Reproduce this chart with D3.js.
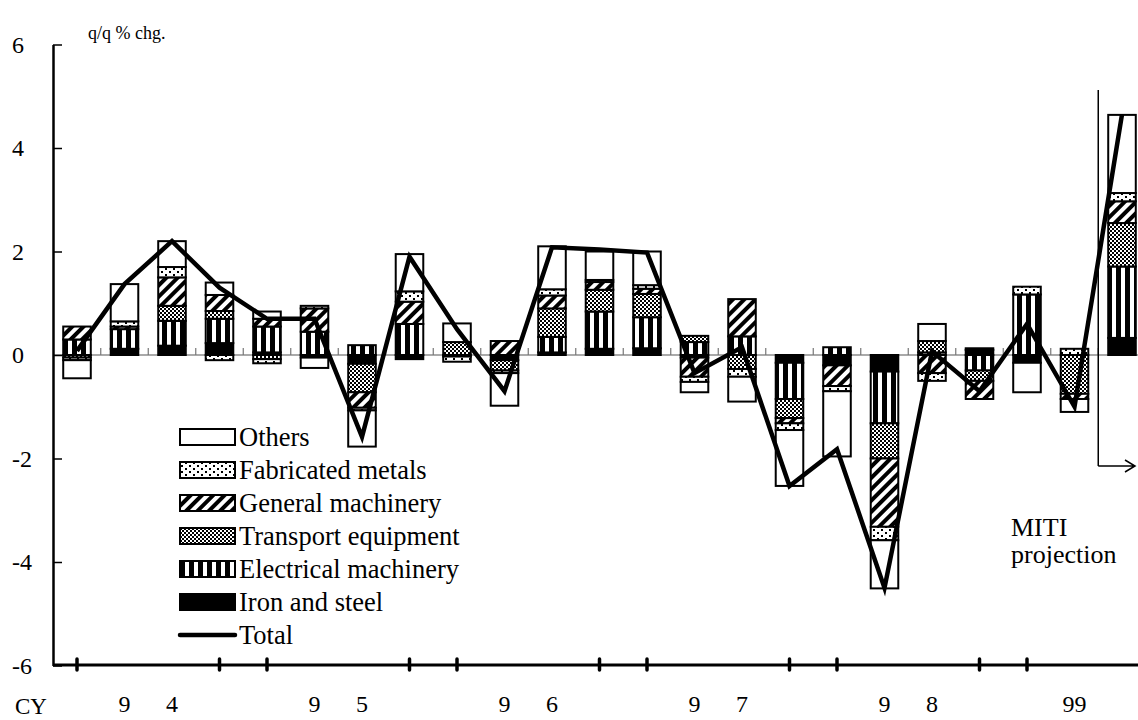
<!DOCTYPE html>
<html><head><meta charset="utf-8">
<script src="https://cdn.jsdelivr.net/npm/d3@7"></script>
<style>
body{margin:0;background:#fff;}
svg{display:block;}
svg text{font-family:"Liberation Serif","Times New Roman",serif !important;fill:#000;}
</style></head>
<body><svg id="c" width="1138" height="720"></svg>
<script>
// ---- data ----
const categories = ["94Q1","94Q2","94Q3","94Q4","95Q1","95Q2","95Q3","95Q4","96Q1","96Q2","96Q3","96Q4","97Q1","97Q2","97Q3","97Q4","98Q1","98Q2","98Q3","98Q4","99Q1","99Q2","99Q3"];
const xLabels = ["","9","4","","","9","5","","","9","6","","","9","7","","","9","8","","","99",""];
const yearEdgeTicks = ["94Q1","94Q4","95Q1","95Q4","96Q1","96Q4","97Q1","97Q4","98Q1","98Q4","99Q1"];
const yTicks = [-6,-4,-2,0,2,4,6];
const seriesNames = ["Iron and steel","Electrical machinery","Transport equipment","General machinery","Fabricated metals","Others"];
const ironSteel   = [0,0.12,0.18,0.23,0.05,-0.05,-0.17,-0.08,-0.03,-0.1,0.05,0.12,0.13,-0.05,0,-0.15,-0.2,-0.32,0,0.1,-0.15,0,0.33];
const electrical  = [0.3,0.38,0.48,0.47,0.5,0.45,0.19,0.6,0,0,0.3,0.72,0.6,0.25,0.36,-0.7,0.15,-1.0,0.05,-0.3,1.17,0,1.38];
const transport   = [-0.05,0,0.29,0.15,-0.08,0,-0.55,0,0.25,-0.2,0.55,0.42,0.45,0.12,-0.27,-0.37,0,-0.68,0.22,-0.2,0,-0.75,0.84];
const generalMach = [0.25,0.05,0.55,0.31,0.15,0.45,-0.3,0.43,0,0.27,0.25,0.15,0.1,-0.37,0.72,-0.1,-0.4,-1.32,-0.35,-0.35,0,-0.1,0.42];
const fabricated  = [-0.05,0.1,0.2,-0.1,-0.08,0.05,-0.05,0.2,-0.1,-0.05,0.12,0.04,0.07,-0.1,-0.15,-0.13,-0.1,-0.26,-0.15,0.03,0.15,0.12,0.16];
const others      = [-0.35,0.72,0.5,0.24,0.14,-0.2,-0.7,0.72,0.36,-0.63,0.83,0.55,0.65,-0.2,-0.48,-1.08,-1.26,-0.93,0.33,0,-0.57,-0.25,1.51];
const total       = [0.08,1.37,2.2,1.3,0.7,0.7,-1.58,1.9,0.5,-0.7,2.08,2.04,1.98,-0.35,0.15,-2.53,-1.82,-4.5,0.07,-0.7,0.6,-1.0,4.65];
const legendOrder = ["Others","Fabricated metals","General machinery","Transport equipment","Electrical machinery","Iron and steel","Total"];

// ---- build ----
const svg = d3.select("#c");
const defs = svg.append("defs");
const pElec = defs.append("pattern").attr("id","p-elec").attr("patternUnits","userSpaceOnUse").attr("width",9).attr("height",9);
pElec.append("rect").attr("width",9).attr("height",9).attr("fill","#fff");
pElec.append("rect").attr("width",5).attr("height",9).attr("fill","#000");
const pTr = defs.append("pattern").attr("id","p-tr").attr("patternUnits","userSpaceOnUse").attr("width",4).attr("height",4);
pTr.append("rect").attr("width",4).attr("height",4).attr("fill","#fff");
pTr.append("rect").attr("width",2).attr("height",2).attr("fill","#000");
pTr.append("rect").attr("x",2).attr("y",2).attr("width",2).attr("height",2).attr("fill","#000");
const pGen = defs.append("pattern").attr("id","p-gen").attr("patternUnits","userSpaceOnUse").attr("width",8).attr("height",8).attr("patternTransform","rotate(45)");
pGen.append("rect").attr("width",8).attr("height",8).attr("fill","#fff");
pGen.append("rect").attr("width",4).attr("height",8).attr("fill","#000");
const pFab = defs.append("pattern").attr("id","p-fab").attr("patternUnits","userSpaceOnUse").attr("width",8).attr("height",6);
pFab.append("rect").attr("width",8).attr("height",6).attr("fill","#fff");
pFab.append("rect").attr("x",1).attr("y",1).attr("width",2).attr("height",2).attr("fill","#000");
pFab.append("rect").attr("x",5).attr("y",4).attr("width",2).attr("height",2).attr("fill","#000");

const fills = {
  "Iron and steel":"#000",
  "Electrical machinery":"url(#p-elec)",
  "Transport equipment":"url(#p-tr)",
  "General machinery":"url(#p-gen)",
  "Fabricated metals":"url(#p-fab)",
  "Others":"#fff"
};

const x = d3.scaleBand().domain(categories).range([53.25,1145.75]).paddingInner(0.42).paddingOuter(0.21);
const step = x.step();
const y = d3.scaleLinear().domain([-6,6]).range([665.5,44.5]);

const rows = categories.map((c,i)=>({cat:c,
  "Iron and steel":ironSteel[i],"Electrical machinery":electrical[i],"Transport equipment":transport[i],
  "General machinery":generalMach[i],"Fabricated metals":fabricated[i],"Others":others[i]}));
const stack = d3.stack().keys(seriesNames).offset(d3.stackOffsetDiverging);
const layers = stack(rows);

// zero line with category ticks
svg.append("line").attr("x1",53).attr("x2",1138).attr("y1",y(0)).attr("y2",y(0)).attr("stroke","#555").attr("stroke-width",1.2);
svg.append("g").selectAll("line").data(categories.slice(1)).join("line")
  .attr("x1",d=>x(d)-step*0.21).attr("x2",d=>x(d)-step*0.21)
  .attr("y1",y(0)).attr("y2",y(0)-7).attr("stroke","#777").attr("stroke-width",1.2);

// bars
const gBars = svg.append("g");
layers.forEach(layer=>{
  gBars.append("g").selectAll("rect").data(layer.filter(d=>Math.abs(d[1]-d[0])>1e-9)).join("rect")
    .attr("x",d=>x(d.data.cat)).attr("width",x.bandwidth())
    .attr("y",d=>y(Math.max(d[0],d[1]))).attr("height",d=>Math.abs(y(d[0])-y(d[1])))
    .attr("fill",fills[layer.key]).attr("stroke","#000").attr("stroke-width",2);
});

// total line
const line = d3.line().x((d,i)=>x(categories[i])+x.bandwidth()/2).y(d=>y(d));
svg.append("path").datum(total).attr("d",line).attr("fill","none").attr("stroke","#000").attr("stroke-width",4.5).attr("stroke-linejoin","miter");

// y axis
const yAxis = d3.axisLeft(y).tickValues(yTicks).tickSizeInner(-9).tickSizeOuter(0).tickFormat(d=>String(d));
const gy = svg.append("g").attr("transform","translate(53,0)").call(yAxis);
gy.select(".domain").attr("stroke-width",2.5);
gy.selectAll(".tick line").attr("stroke-width",1.5);
gy.selectAll(".tick text").attr("x",-41).attr("text-anchor","start").attr("font-size",24);

// bottom axis with year-edge ticks
const xAxis = d3.axisBottom(x).tickValues(yearEdgeTicks).tickSize(0).tickFormat("");
const gx = svg.append("g").attr("transform","translate(0,665)").call(xAxis);
gx.select(".domain").attr("d","M53,0H1138").attr("stroke-width",3);
gx.selectAll(".tick").append("line").attr("y1",-6).attr("y2",5).attr("stroke","#000").attr("stroke-width",3.5).attr("stroke-linecap","round");

// year labels
const xLab = d3.axisBottom(x).tickSize(0).tickFormat(d=>xLabels[categories.indexOf(d)]);
const gl = svg.append("g").attr("transform","translate(0,697)").call(xLab);
gl.select(".domain").remove();
gl.selectAll("text").attr("font-size",24).attr("dy","0.5em");

svg.append("text").attr("x",15).attr("y",714).attr("font-size",23).text("CY");
svg.append("text").attr("x",88).attr("y",39).attr("font-size",18).text("q/q % chg.");

// MITI projection
const xm = x("99Q2")+x.bandwidth()+(step-x.bandwidth())/2;
svg.append("line").attr("x1",xm).attr("x2",xm).attr("y1",90).attr("y2",466).attr("stroke","#000").attr("stroke-width",1.5);
svg.append("path").attr("d",`M${xm},466H1135M1125,460L1135,466L1125,472`).attr("fill","none").attr("stroke","#000").attr("stroke-width",1.5);
svg.append("text").attr("x",1011).attr("y",536).attr("font-size",26).text("MITI");
svg.append("text").attr("x",1011).attr("y",563).attr("font-size",26).text("projection");

// legend
const lg = svg.append("g").attr("transform","translate(180,437)");
legendOrder.forEach((name,i)=>{
  const g = lg.append("g").attr("transform",`translate(0,${i*33})`);
  if(name==="Total"){
    g.append("line").attr("x1",0).attr("x2",55).attr("stroke","#000").attr("stroke-width",4.5).attr("stroke-linecap","round");
  } else {
    g.append("rect").attr("x",0).attr("y",-8).attr("width",55).attr("height",16).attr("fill",fills[name]).attr("stroke","#000").attr("stroke-width",2);
  }
  g.append("text").attr("x",59).attr("y",0).attr("dy","0.35em").attr("font-size",26.5).text(name);
});
</script></body></html>
